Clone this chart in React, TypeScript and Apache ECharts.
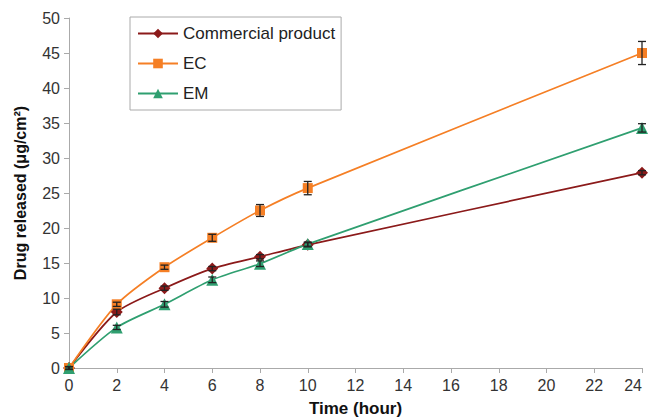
import React, { useEffect, useRef } from "react";
import * as echarts from "echarts";

const hours = [0, 2, 4, 6, 8, 10, 24];
const commercial = [0, 8.0, 11.4, 14.2, 15.9, 17.6, 27.9];
const commercialErr = [0.2, 0.4, 0.3, 0.3, 0.3, 0.3, 0.3];
const ec = [0, 9.1, 14.4, 18.6, 22.5, 25.7, 45.0];
const ecErr = [0.2, 0.3, 0.3, 0.5, 0.85, 0.95, 1.65];
const em = [0, 5.8, 9.1, 12.6, 14.9, 17.7, 34.3];
const emErr = [0.2, 0.3, 0.4, 0.4, 0.4, 0.3, 0.6];
const seriesNames = ["Commercial product", "EC", "EM"];
const colors = ["#8b1a1a", "#f57f25", "#2f9f70"];

const FONT = "Liberation Sans, Arial, sans-serif";

function errorSeries(vals: number[], errs: number[]) {
  return {
    type: "custom",
    silent: true,
    z: 5,
    data: hours.map((h, i) => [h, vals[i] - errs[i], vals[i] + errs[i]]),
    renderItem: (params: any, api: any) => {
      const lo = api.coord([api.value(0), api.value(1)]);
      const hi = api.coord([api.value(0), api.value(2)]);
      const w = 4;
      const style = { stroke: "#222", lineWidth: 1.3 };
      return {
        type: "group",
        children: [
          { type: "line", shape: { x1: lo[0], y1: lo[1], x2: hi[0], y2: hi[1] }, style },
          { type: "line", shape: { x1: lo[0] - w, y1: lo[1], x2: lo[0] + w, y2: lo[1] }, style },
          { type: "line", shape: { x1: hi[0] - w, y1: hi[1], x2: hi[0] + w, y2: hi[1] }, style },
        ],
      };
    },
  };
}

export default function App() {
  const ref = useRef<HTMLDivElement>(null);
  useEffect(() => {
    const chart = echarts.init(ref.current!, null, { renderer: "svg" });
    const vals = [commercial, ec, em];
    const symbols = ["diamond", "rect", "triangle"];
    const symSizes = [12, 10, 12];
    chart.setOption({
      animation: false,
      backgroundColor: "#fff",
      grid: { left: 69, right: 6, top: 18, bottom: 50, containLabel: false, outerBoundsMode: "none" },
      legend: {
        orient: "vertical",
        left: 130,
        top: 17,
        data: seriesNames,
        borderColor: "#aaa",
        borderWidth: 1,
        borderRadius: 0,
        padding: [8, 6, 8, 7],
        itemGap: 13,
        itemWidth: 40,
        itemHeight: 12,
        textStyle: { fontFamily: FONT, fontSize: 17, color: "#222" },
      },
      xAxis: {
        type: "value",
        min: 0,
        max: 24,
        interval: 2,
        name: "Time (hour)",
        nameLocation: "middle",
        nameGap: 32,
        nameTextStyle: { fontFamily: FONT, fontSize: 17, fontWeight: "bold", color: "#111" },
        axisLine: { lineStyle: { color: "#aaa" } },
        axisTick: { show: true, lineStyle: { color: "#aaa" }, length: 5 },
        axisLabel: {
          fontFamily: FONT,
          fontSize: 16,
          color: "#333",
          margin: 9,
          alignMaxLabel: "right",
        },
        splitLine: { show: false },
      },
      yAxis: {
        type: "value",
        min: 0,
        max: 50,
        interval: 5,
        name: "Drug released (μg/cm²)",
        nameLocation: "middle",
        nameGap: 41,
        nameTextStyle: { fontFamily: FONT, fontSize: 16, fontWeight: "bold", color: "#111" },
        axisLine: { show: true, lineStyle: { color: "#aaa" } },
        axisTick: { show: true, lineStyle: { color: "#aaa" }, length: 5 },
        axisLabel: { fontFamily: FONT, fontSize: 16, color: "#333", margin: 9 },
        splitLine: { show: false },
      },
      series: [
        ...seriesNames.map((name, k) => ({
          name,
          type: "line",
          smooth: 0.25,
          data: hours.map((h, i) => [h, vals[k][i]]),
          symbol: symbols[k],
          symbolSize: symSizes[k],
          showAllSymbol: true,
          color: colors[k],
          lineStyle: { width: 1.7, color: colors[k] },
          itemStyle: { color: colors[k] },
          z: 3,
        })),
        errorSeries(commercial, commercialErr),
        errorSeries(ec, ecErr),
        errorSeries(em, emErr),
      ],
    });
    return () => chart.dispose();
  }, []);
  return (
    <div
      ref={ref}
      style={{ position: "absolute", left: 0, top: 0, width: 648, height: 418 }}
    />
  );
}
